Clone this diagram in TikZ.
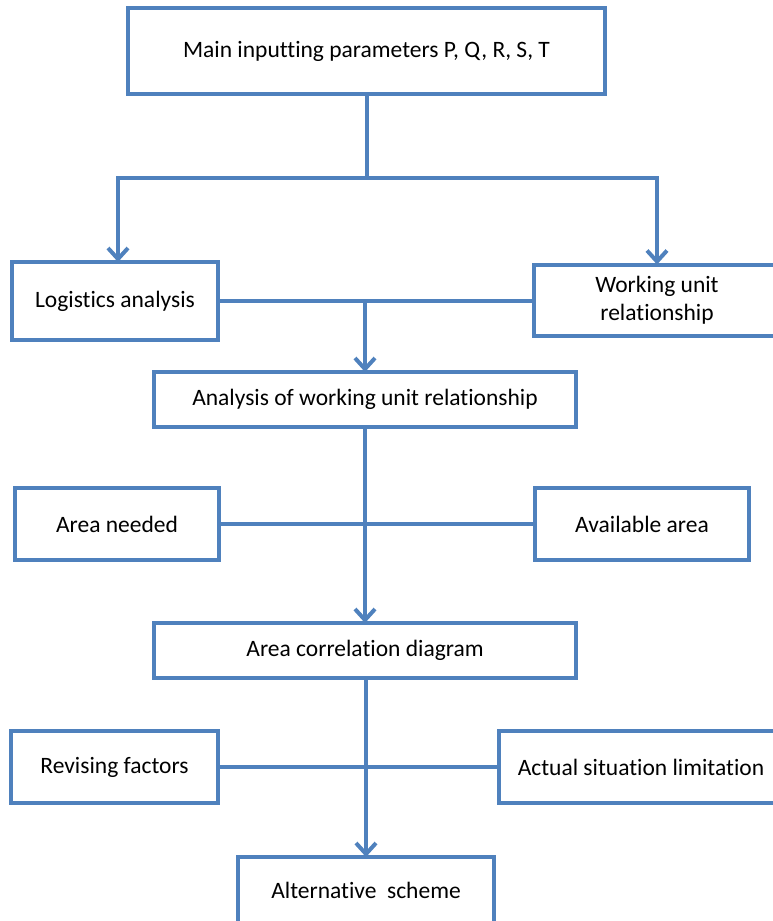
\documentclass[tikz,border=0pt]{standalone}
\usepackage{fontspec}
\setmainfont[Ligatures=NoCommon]{Carlito}
\usetikzlibrary{arrows.meta}
\definecolor{officeblue}{HTML}{4F81BD}
\tikzset{
  box/.style={draw=officeblue, line width=4pt, fill=white, inner sep=0pt, outer sep=0pt,
    align=center, font=\fontsize{23.5}{28}\selectfont, text=black},
  link/.style={draw=officeblue, line width=4pt},
  arr/.style={link, -{Straight Barb[length=11pt,width=20pt]}}
}
\begin{document}
\begin{tikzpicture}[x=1pt,y=-1pt]
\useasboundingbox (0,0) rectangle (773,921);
\clip (0,0) rectangle (773,921);
% nodes
\node[box, minimum width=477pt, minimum height=86pt] (top) at (366.5,51) {Main inputting parameters P, Q, R, S, T};
\node[box, minimum width=206pt, minimum height=78pt] (log) at (115,301) {Logistics analysis};
\node[box, minimum width=246pt, minimum height=71pt] (work) at (657,300) {Working unit\\relationship};
\node[box, minimum width=422pt, minimum height=55pt] (ana) at (365,399.5) {Analysis of working unit relationship};
\node[box, minimum width=204pt, minimum height=72pt] (need) at (117,524) {Area needed};
\node[box, minimum width=214pt, minimum height=72pt] (avail) at (642,524) {Available area};
\node[box, minimum width=422pt, minimum height=55pt] (corr) at (365,650.5) {Area correlation diagram};
\node[box, minimum width=207pt, minimum height=72pt] (rev) at (114.5,767) {Revising factors};
\node[box, minimum width=284pt, minimum height=72pt] (act) at (641,767) {Actual situation limitation};
\node[box, minimum width=256pt, minimum height=66pt] (alt) at (366,890) {Alternative~~scheme};
% junctions
\coordinate (j1) at (367,178);
% connectors
\draw[link] (top.south -| j1) -- (j1);
\draw[arr] (j1) -| (log.north -| 118,0);
\draw[arr] (j1) -| (work.north);
\draw[link] (log.east) -- (log.east -| work.west);
\draw[arr] (log.east -| ana.north) -- (ana.north);
\draw[link] (need.east) -- (avail.west);
\draw[arr] (ana.south) -- (corr.north);
\draw[link] (rev.east) -- (act.west);
\draw[arr] (corr.south -| alt.north) -- (alt.north);
\end{tikzpicture}
\end{document}
